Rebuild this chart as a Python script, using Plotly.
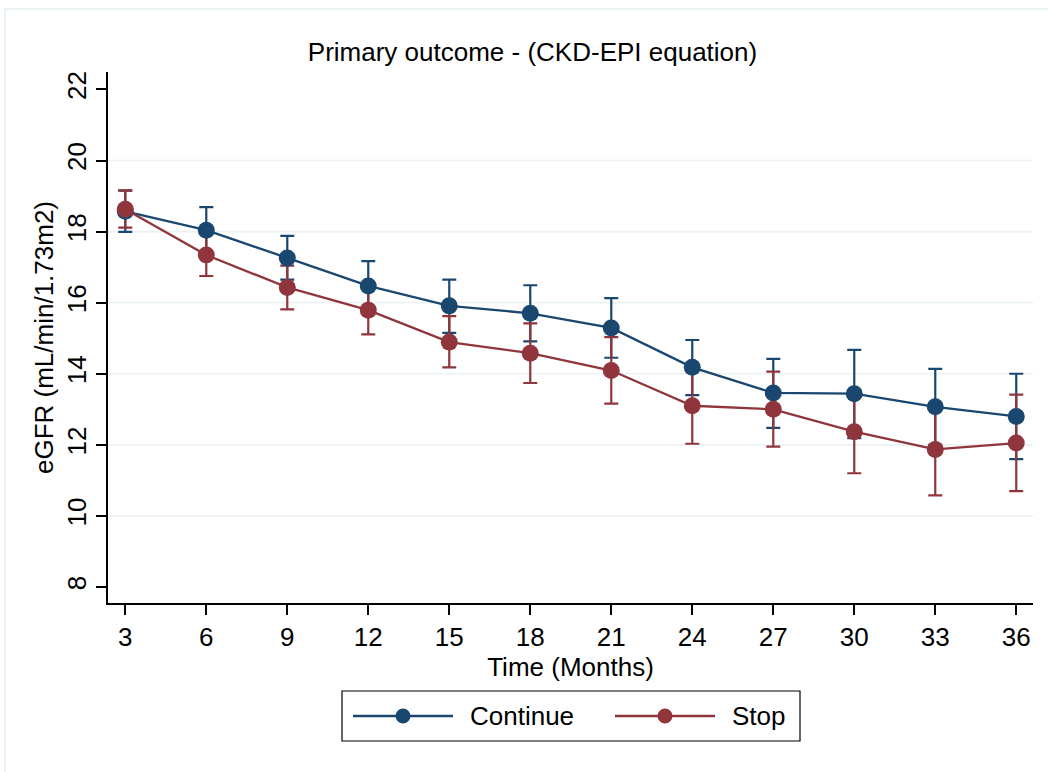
import plotly.graph_objects as go

# ---------------- data ----------------
months = [3, 6, 9, 12, 15, 18, 21, 24, 27, 30, 33, 36]

continue_mean = [18.57, 18.04, 17.26, 16.47, 15.91, 15.70, 15.29, 14.18, 13.46, 13.44, 13.07, 12.80]
continue_low = [17.99, 17.39, 16.65, 15.77, 15.15, 14.91, 14.45, 13.40, 12.48, 12.19, 12.00, 11.60]
continue_high = [19.15, 18.69, 17.88, 17.17, 16.65, 16.49, 16.13, 14.95, 14.42, 14.67, 14.14, 14.00]

stop_mean = [18.63, 17.34, 16.43, 15.79, 14.89, 14.58, 14.09, 13.10, 13.00, 12.37, 11.87, 12.05]
stop_low = [18.11, 16.75, 15.81, 15.11, 14.18, 13.74, 13.16, 12.03, 11.95, 11.20, 10.58, 10.70]
stop_high = [19.16, 17.93, 17.04, 16.47, 15.62, 15.42, 15.03, 14.16, 14.06, 13.54, 13.16, 13.41]

series_names = ["Continue", "Stop"]
series_colors = ["#1a476f", "#90353b"]

y_ticks = [8, 10, 12, 14, 16, 18, 20, 22]
grid_values = [10, 12, 14, 16, 18, 20]

title_text = "Primary outcome - (CKD-EPI equation)"
x_title = "Time (Months)"
y_title = "eGFR (mL/min/1.73m2)"

# ---------------- layout constants ----------------
W, H = 1048, 772
ML, MR, MT, MB = 108, 15, 72, 169
PW = W - ML - MR
PH = H - MT - MB
FONT = "Liberation Sans, Arial, sans-serif"
FS = 26
FRAME = "rgb(234,242,243)"


def px_x(p):
    return (p - ML) / PW


def px_y(p):
    return (H - MB - p) / PH


fig = go.Figure()

means = [continue_mean, stop_mean]
lows = [continue_low, stop_low]
highs = [continue_high, stop_high]

# error bars first (drawn beneath lines/markers)
for name, color, m, lo, hi in zip(series_names, series_colors, means, lows, highs):
    fig.add_trace(go.Scatter(
        x=months, y=m, mode="markers", showlegend=False, hoverinfo="skip",
        marker=dict(size=1, color="rgba(0,0,0,0)"),
        error_y=dict(type="data", symmetric=False,
                     array=[h - v for h, v in zip(hi, m)],
                     arrayminus=[v - l for v, l in zip(m, lo)],
                     color=color, thickness=2.2, width=7),
    ))

for name, color, m in zip(series_names, series_colors, means):
    fig.add_trace(go.Scatter(
        x=months, y=m, mode="lines+markers", name=name, showlegend=False,
        line=dict(color=color, width=2.3),
        marker=dict(size=17, color=color),
    ))

shapes = []
# outer graph-region frame
shapes.append(dict(type="rect", xref="paper", yref="paper",
                   x0=px_x(5), x1=px_x(1070), y0=px_y(9), y1=px_y(800),
                   line=dict(color=FRAME, width=2), fillcolor="rgba(0,0,0,0)",
                   layer="below"))
# horizontal grid lines
for g in grid_values:
    shapes.append(dict(type="line", xref="paper", yref="y", x0=0, x1=1, y0=g, y1=g,
                       line=dict(color=FRAME, width=1.6), layer="below"))

# custom legend
annotations = []
shapes.append(dict(type="rect", xref="paper", yref="paper",
                   x0=px_x(342), x1=px_x(800), y0=px_y(741), y1=px_y(691),
                   line=dict(color="black", width=1.2), fillcolor="white"))
leg_y = px_y(716)
leg_starts = [353, 615]
for name, color, sx in zip(series_names, series_colors, leg_starts):
    shapes.append(dict(type="line", xref="paper", yref="paper",
                       x0=px_x(sx), x1=px_x(sx + 100), y0=leg_y, y1=leg_y,
                       line=dict(color=color, width=2.3)))
    shapes.append(dict(type="circle", xref="paper", yref="paper",
                       xsizemode="pixel", ysizemode="pixel",
                       xanchor=px_x(sx + 50), yanchor=leg_y,
                       x0=-7.5, x1=7.5, y0=-7.5, y1=7.5,
                       line=dict(color=color, width=0), fillcolor=color))
    annotations.append(dict(text=name, xref="paper", yref="paper",
                            x=px_x(sx + 115), y=leg_y, xanchor="left", yanchor="middle",
                            showarrow=False, font=dict(family=FONT, size=FS, color="black")))

fig.update_layout(
    width=W, height=H, autosize=False,
    margin=dict(l=ML, r=MR, t=MT, b=MB, pad=0),
    paper_bgcolor="white", plot_bgcolor="white",
    font=dict(family=FONT, size=FS, color="black"),
    title=dict(text=title_text, x=532.5 / W, xref="container", xanchor="center",
               y=1 - 52 / H, yref="container", yanchor="middle",
               font=dict(family=FONT, size=FS, color="black")),
    shapes=shapes,
    annotations=annotations,
    showlegend=False,
    xaxis=dict(range=[2.36, 36.62], tickvals=months, ticks="outside", ticklen=10,
               tickwidth=1.5, tickcolor="black", showline=True, linecolor="black",
               linewidth=1.5, showgrid=False, zeroline=False,
               tickfont=dict(family=FONT, size=FS, color="black"),
               title=dict(text=x_title, standoff=0,
                          font=dict(family=FONT, size=FS, color="black"))),
    yaxis=dict(range=[7.55, 22.49], tickvals=y_ticks, tickangle=-90, ticks="outside",
               ticklen=10, tickwidth=1.5, tickcolor="black", showline=True,
               linecolor="black", linewidth=1.5, showgrid=False, zeroline=False,
               tickfont=dict(family=FONT, size=FS, color="black"),
               title=dict(text=y_title, standoff=1,
                          font=dict(family=FONT, size=FS, color="black"))),
)

fig.write_html("out.html")
